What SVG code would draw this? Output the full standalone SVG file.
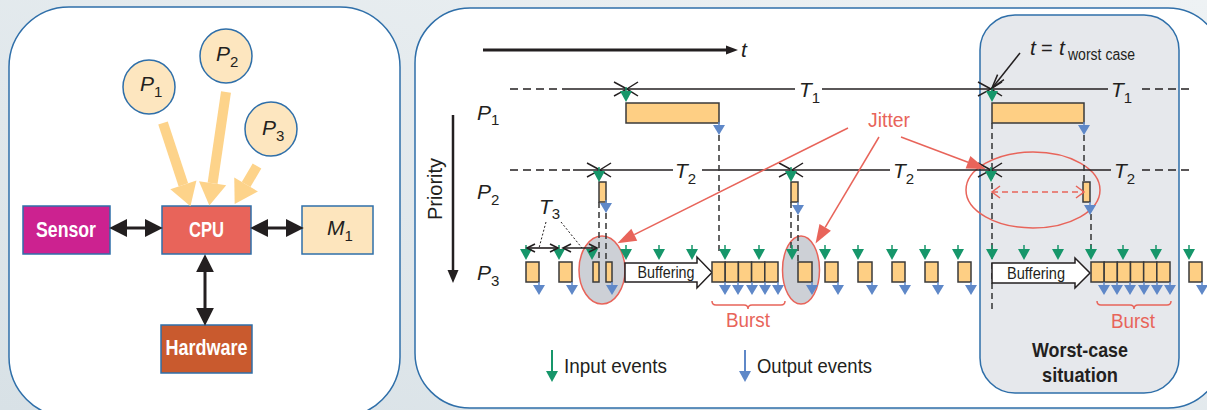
<svg xmlns="http://www.w3.org/2000/svg" xmlns:xlink="http://www.w3.org/1999/xlink" width="1207" height="410" viewBox="0 0 1207 410">
<defs>
<linearGradient id="bg" x1="0" y1="1" x2="1" y2="0">
<stop offset="0" stop-color="#d8e1e6"/>
<stop offset="1" stop-color="#eef2f4"/>
</linearGradient>
<marker id="ah" markerUnits="userSpaceOnUse" markerWidth="20" markerHeight="20" refX="0" refY="0" viewBox="0 -9 17 18" orient="auto-start-reverse" overflow="visible">
<path d="M0,-8 L16,0 L0,8 Z" fill="#231f20"/>
</marker>
<marker id="oh" markerUnits="userSpaceOnUse" markerWidth="30" markerHeight="30" refX="0" refY="0" viewBox="0 -12 19 24" orient="auto" overflow="visible">
<path d="M0,-11 L18,0 L0,11 Z" fill="#fdd38a"/>
</marker>
<marker id="ra" markerUnits="userSpaceOnUse" markerWidth="20" markerHeight="20" refX="0" refY="0" viewBox="0 -7 18 14" orient="auto" overflow="visible">
<path d="M0,-6 L17,0 L0,6 Z" fill="#e8645a"/>
</marker>
<g id="gi"><line x1="0" y1="-4" x2="0" y2="0" stroke="#16966a" stroke-width="1.5"/><path d="M-6,0 H6 L0,11 Z" fill="#16966a"/></g>
<g id="bo"><line x1="0" y1="-3" x2="0" y2="0" stroke="#5f88c8" stroke-width="1.5"/><path d="M-6,0 H6 L0,10 Z" fill="#5f88c8"/></g>
<path id="xm" d="M-12,-7 Q0,-1 12,7 M-12,7 Q0,1 12,-7" fill="none" stroke="#231f20" stroke-width="1.5"/>
<path id="t3h" d="M8,-4 L0,0 L8,4" fill="none" stroke="#231f20" stroke-width="1.6"/>
</defs>
<style>
.panel{fill:#fff;stroke:#2f6fa9;stroke-width:1.5}
.box{stroke:#2f6fa9;stroke-width:1.5}
.lbl{font-family:"Liberation Sans",Arial,sans-serif;font-weight:bold;font-size:22px;fill:#fff;text-anchor:middle}
.it{font-family:"Liberation Sans",Arial,sans-serif;font-style:italic;font-size:21px;fill:#231f20}
.s{font-style:normal;font-size:15px}
.txt{font-family:"Liberation Sans",Arial,sans-serif;font-size:20px;fill:#231f20}
.red{font-family:"Liberation Sans",Arial,sans-serif;font-size:20px;fill:#e8645a}
.bar{fill:#fecf84;stroke:#3a3a3a;stroke-width:1.5}
.dash{stroke:#333;stroke-width:1.5;stroke-dasharray:6,4;fill:none}
.tl{stroke:#231f20;stroke-width:1.5;fill:none}
.tld{stroke:#231f20;stroke-width:1.5;stroke-dasharray:8,5;fill:none}
.rl{stroke:#e8645a;stroke-width:1.5;fill:none}
.buf{fill:#fff;stroke:#231f20;stroke-width:1.5}
.buft{font-family:"Liberation Sans",Arial,sans-serif;font-size:16px;fill:#231f20;text-anchor:middle}
</style>
<rect x="0" y="0" width="1207" height="410" fill="url(#bg)"/>

<!-- Left panel -->
<rect class="panel" x="9" y="7" width="391" height="410" rx="60"/>

<g id="P1">
<ellipse cx="149" cy="87" rx="26" ry="27" fill="#fde6bf" stroke="#2f6fa9" stroke-width="1.5"/>
<text class="it" x="140" y="91">P<tspan class="s" dy="6">1</tspan></text>
</g>
<g id="P2">
<ellipse cx="226" cy="56" rx="26" ry="27" fill="#fde6bf" stroke="#2f6fa9" stroke-width="1.5"/>
<text class="it" x="216" y="61">P<tspan class="s" dy="6">2</tspan></text>
</g>
<g id="P3">
<ellipse cx="271" cy="129" rx="26" ry="27" fill="#fde6bf" stroke="#2f6fa9" stroke-width="1.5"/>
<text class="it" x="262" y="135">P<tspan class="s" dy="6">3</tspan></text>
</g>
<g id="sensor">
<rect class="box" x="23" y="206" width="87" height="48" fill="#cc2290"/>
<text class="lbl" x="66" y="237" textLength="60" lengthAdjust="spacingAndGlyphs">Sensor</text>
</g>
<g id="cpu">
<rect class="box" x="162" y="206" width="89" height="48" fill="#e8645a"/>
<text class="lbl" x="206.5" y="237" textLength="35" lengthAdjust="spacingAndGlyphs">CPU</text>
</g>
<g id="m1">
<rect class="box" x="302" y="206" width="71" height="48" fill="#fde5bd"/>
<text class="it" x="327" y="235" font-size="22">M<tspan class="s" dy="6">1</tspan></text>
</g>
<g id="hardware">
<rect class="box" x="161" y="325" width="91" height="48" fill="#c95a2e"/>
<text class="lbl" x="206.5" y="355" textLength="82" lengthAdjust="spacingAndGlyphs">Hardware</text>
</g>
<g id="connectors">
<line x1="163" y1="123" x2="183.4" y2="184.9" stroke="#fdd38a" stroke-width="10" marker-end="url(#oh)"/>
<line x1="226" y1="92" x2="212.6" y2="183.2" stroke="#fdd38a" stroke-width="10" marker-end="url(#oh)"/>
<line x1="257" y1="166" x2="246.1" y2="184.5" stroke="#fdd38a" stroke-width="10" marker-end="url(#oh)"/>
<line x1="127" y1="228" x2="145" y2="228" stroke="#231f20" stroke-width="3" marker-start="url(#ah)" marker-end="url(#ah)"/>
<line x1="268" y1="228" x2="286" y2="228" stroke="#231f20" stroke-width="3" marker-start="url(#ah)" marker-end="url(#ah)"/>
<line x1="205" y1="272" x2="205" y2="308" stroke="#231f20" stroke-width="3" marker-start="url(#ah)" marker-end="url(#ah)"/>
</g>

<!-- Right panel -->
<rect class="panel" x="415" y="8" width="808" height="400" rx="55"/>
<rect id="worstcase" x="980" y="15" width="199" height="378" rx="35" fill="#e6e8ec" stroke="#2f6fa9" stroke-width="1.5"/>

<g id="axes">
<line x1="483" y1="50" x2="727" y2="50" stroke="#231f20" stroke-width="3"/>
<path d="M726,45.5 L738,50 L726,54.5 Z" fill="#231f20"/>
<text class="it" x="741" y="57" font-size="22">t</text>
<line x1="453" y1="115" x2="453" y2="271" stroke="#231f20" stroke-width="2.5"/>
<path d="M447.5,270 L458.5,270 L453,283 Z" fill="#231f20"/>
<text class="txt" transform="translate(442,189) rotate(-90)" text-anchor="middle" font-size="21">Priority</text>
<text class="it" x="477" y="120">P<tspan class="s" dy="5">1</tspan></text>
<text class="it" x="477" y="199">P<tspan class="s" dy="6">2</tspan></text>
<text class="it" x="477" y="280">P<tspan class="s" dy="6">3</tspan></text>
</g>

<!-- ellipses -->
<ellipse cx="602" cy="270" rx="23" ry="34" fill="#cdd0d6" stroke="#e8645a" stroke-width="1.5"/>
<ellipse cx="801" cy="270" rx="18.5" ry="34" fill="#cdd0d6" stroke="#e8645a" stroke-width="1.5"/>
<ellipse cx="1033" cy="190" rx="67" ry="38" fill="none" stroke="#e8645a" stroke-width="1.5"/>

<!-- timelines -->
<g id="timelines">
<line class="tld" x1="510" y1="89" x2="563" y2="89"/>
<line class="tl" x1="563" y1="89" x2="795" y2="89"/>
<line class="tl" x1="822" y1="89" x2="1108" y2="89"/>
<line class="tld" x1="1142" y1="89" x2="1192" y2="89"/>
<text class="it" x="799" y="97">T<tspan class="s" dy="6">1</tspan></text>
<text class="it" x="1111" y="97">T<tspan class="s" dy="6">1</tspan></text>
<line class="tld" x1="510" y1="170" x2="573" y2="170"/>
<line class="tl" x1="573" y1="170" x2="673" y2="170"/>
<line class="tl" x1="702" y1="170" x2="890" y2="170"/>
<line class="tl" x1="917" y1="170" x2="1111" y2="170"/>
<line class="tld" x1="1142" y1="170" x2="1192" y2="170"/>
<text class="it" x="675" y="178">T<tspan class="s" dy="6">2</tspan></text>
<text class="it" x="893" y="178">T<tspan class="s" dy="6">2</tspan></text>
<text class="it" x="1114" y="178">T<tspan class="s" dy="6">2</tspan></text>
<use href="#xm" x="626" y="89"/>
<use href="#xm" x="990" y="89"/>
<use href="#xm" x="599" y="170"/>
<use href="#xm" x="791" y="170"/>
<use href="#xm" x="990" y="170"/>
</g>

<!-- dashed dependency lines -->
<g id="deps">
<path class="dash" d="M719,135 V251 H723"/>
<line class="dash" x1="992" y1="123" x2="992" y2="313"/>
<line class="dash" x1="1084" y1="135" x2="1084" y2="182"/>
<line class="dash" x1="1091" y1="214" x2="1091" y2="249"/>
<line class="dash" x1="599" y1="202" x2="599" y2="262"/>
<line class="dash" x1="606" y1="213" x2="606" y2="262"/>
<line class="dash" x1="791" y1="202" x2="791" y2="250"/>
<line class="dash" x1="798" y1="215" x2="798" y2="262"/>
</g>

<!-- P1 / P2 jobs -->
<g id="p1jobs">
<rect class="bar" x="626" y="103" width="93" height="20"/>
<rect class="bar" x="992" y="103" width="92" height="20"/>
<use href="#gi" x="626" y="91"/>
<use href="#gi" x="992" y="91"/>
<use href="#bo" x="719" y="125"/>
<use href="#bo" x="1084" y="125"/>
</g>
<g id="p2jobs">
<rect class="bar" x="599" y="182" width="7" height="20"/>
<rect class="bar" x="791" y="182" width="7" height="20"/>
<rect class="bar" x="1083" y="182" width="7" height="20"/>
<use href="#gi" x="599" y="171"/>
<use href="#gi" x="791" y="171"/>
<use href="#gi" x="991" y="171"/>
<use href="#bo" x="606" y="203"/>
<use href="#bo" x="798" y="205"/>
<use href="#bo" x="1090" y="205"/>
</g>

<!-- P3 jobs -->
<g id="p3jobs">
<path class="buf" d="M625,263 H697 V257 L712,272.5 L697,288 V282 H625 Z"/>
<text class="buft" x="666" y="278" textLength="57" lengthAdjust="spacingAndGlyphs">Buffering</text>
<path class="buf" d="M992,263 H1075 V258 L1090,273 L1075,288 V283 H992 Z"/>
<text class="buft" x="1036" y="279" textLength="58" lengthAdjust="spacingAndGlyphs">Buffering</text>
<rect class="bar" x="526" y="262" width="13" height="20"/>
<rect class="bar" x="559" y="262" width="13" height="20"/>
<rect class="bar" x="593" y="262" width="6" height="20"/>
<rect class="bar" x="606" y="262" width="6" height="20"/>
<rect class="bar" x="712" y="262" width="13.2" height="20"/>
<rect class="bar" x="725.2" y="262" width="13.2" height="20"/>
<rect class="bar" x="738.4" y="262" width="13.2" height="20"/>
<rect class="bar" x="751.6" y="262" width="13.2" height="20"/>
<rect class="bar" x="764.8" y="262" width="13.2" height="20"/>
<rect class="bar" x="798" y="262" width="14" height="20"/>
<rect class="bar" x="825" y="262" width="13" height="20"/>
<rect class="bar" x="858" y="262" width="14" height="20"/>
<rect class="bar" x="892" y="262" width="13" height="20"/>
<rect class="bar" x="925" y="262" width="13" height="20"/>
<rect class="bar" x="958" y="262" width="13" height="20"/>
<rect class="bar" x="1091" y="262" width="13.17" height="20"/>
<rect class="bar" x="1104.17" y="262" width="13.17" height="20"/>
<rect class="bar" x="1117.33" y="262" width="13.17" height="20"/>
<rect class="bar" x="1130.5" y="262" width="13.17" height="20"/>
<rect class="bar" x="1143.67" y="262" width="13.17" height="20"/>
<rect class="bar" x="1156.83" y="262" width="13.17" height="20"/>
<rect class="bar" x="1189" y="262" width="13" height="20"/>
<use href="#gi" x="526" y="249"/><use href="#gi" x="559" y="249"/><use href="#gi" x="592" y="249"/>
<use href="#gi" x="626" y="249"/><use href="#gi" x="659" y="249"/><use href="#gi" x="692" y="249"/>
<use href="#gi" x="725" y="249"/><use href="#gi" x="759" y="249"/><use href="#gi" x="792" y="249"/>
<use href="#gi" x="825" y="249"/><use href="#gi" x="858" y="249"/><use href="#gi" x="892" y="249"/>
<use href="#gi" x="925" y="249"/><use href="#gi" x="958" y="249"/><use href="#gi" x="992" y="249"/>
<use href="#gi" x="1024" y="249"/><use href="#gi" x="1058" y="249"/><use href="#gi" x="1091" y="249"/>
<use href="#gi" x="1123" y="249"/><use href="#gi" x="1156" y="249"/><use href="#gi" x="1189" y="249"/>
<use href="#bo" x="539" y="285"/><use href="#bo" x="572" y="285"/><use href="#bo" x="612" y="285"/>
<use href="#bo" x="725" y="285"/><use href="#bo" x="738" y="285"/><use href="#bo" x="752" y="285"/>
<use href="#bo" x="765" y="285"/><use href="#bo" x="778" y="285"/><use href="#bo" x="812" y="285"/>
<use href="#bo" x="838" y="285"/><use href="#bo" x="872" y="285"/><use href="#bo" x="905" y="285"/>
<use href="#bo" x="938" y="285"/><use href="#bo" x="971" y="285"/><use href="#bo" x="1104" y="285"/>
<use href="#bo" x="1117" y="285"/><use href="#bo" x="1130" y="285"/><use href="#bo" x="1144" y="285"/>
<use href="#bo" x="1157" y="285"/><use href="#bo" x="1170" y="285"/><use href="#bo" x="1202" y="285"/>
</g>

<!-- T3 annotation -->
<g id="t3">
<line x1="527" y1="248" x2="558" y2="248" stroke="#231f20" stroke-width="1.6"/>
<use href="#t3h" x="527" y="248"/>
<use href="#t3h" transform="translate(558,248) scale(-1,1)"/>
<line x1="563" y1="248" x2="597" y2="248" stroke="#231f20" stroke-width="1.6"/>
<use href="#t3h" x="563" y="248"/>
<use href="#t3h" transform="translate(597,248) scale(-1,1)"/>
<line x1="546" y1="222" x2="539" y2="248" stroke="#231f20" stroke-width="1" stroke-dasharray="2,2"/>
<line x1="561" y1="222" x2="582" y2="248" stroke="#231f20" stroke-width="1" stroke-dasharray="2,2"/>
<text class="it" x="539" y="214">T<tspan class="s" dy="5">3</tspan></text>
</g>

<!-- Jitter -->
<g id="jitter">
<text class="red" x="868" y="127" textLength="42" lengthAdjust="spacingAndGlyphs">Jitter</text>
<line class="rl" x1="848" y1="128" x2="634.3" y2="234.7" marker-end="url(#ra)"/>
<line class="rl" x1="879" y1="137" x2="825.2" y2="227.3" marker-end="url(#ra)"/>
<line class="rl" x1="901" y1="137" x2="968" y2="162.3" marker-end="url(#ra)"/>
<line class="rl" x1="992" y1="192" x2="1084" y2="192" stroke-dasharray="6,4"/>
<path class="rl" d="M1000,186 L992,192 L1000,198 M1076,186 L1084,192 L1076,198"/>
</g>

<!-- worst case label -->
<g id="tworst">
<line x1="1020" y1="53" x2="993" y2="87" stroke="#231f20" stroke-width="1.5"/>
<path d="M1003.9,79.6 L992,88 L997.6,74.6" fill="none" stroke="#231f20" stroke-width="1.5"/>
<text class="it" x="1030" y="55" font-size="22">t<tspan x="1041" font-style="normal" font-size="20">=</tspan><tspan x="1059">t</tspan><tspan x="1068" y="60" font-style="normal" font-size="16" textLength="67" lengthAdjust="spacingAndGlyphs">worst case</tspan></text>
</g>

<!-- bursts -->
<g id="bursts">
<path class="rl" d="M712,301 Q712,305 716,305 L744,305 Q748,305 748,309 Q748,305 752,305 L781,305 Q785,305 785,301"/>
<text class="red" x="748" y="327" text-anchor="middle" textLength="44" lengthAdjust="spacingAndGlyphs">Burst</text>
<path class="rl" d="M1097,301 Q1097,305 1101,305 L1130,305 Q1134,305 1134,309 Q1134,305 1138,305 L1167,305 Q1171,305 1171,301"/>
<text class="red" x="1133" y="328" text-anchor="middle" textLength="44" lengthAdjust="spacingAndGlyphs">Burst</text>
</g>

<text x="1080" y="357" text-anchor="middle" font-family="Liberation Sans, Arial, sans-serif" font-weight="bold" font-size="21" fill="#231f20" textLength="96" lengthAdjust="spacingAndGlyphs">Worst-case</text>
<text x="1080" y="382" text-anchor="middle" font-family="Liberation Sans, Arial, sans-serif" font-weight="bold" font-size="21" fill="#231f20" textLength="76" lengthAdjust="spacingAndGlyphs">situation</text>

<!-- legend -->
<g id="legend">
<line x1="552" y1="350" x2="552" y2="372" stroke="#16966a" stroke-width="2"/>
<path d="M546,371 H558 L552,382 Z" fill="#16966a"/>
<text class="txt" x="564" y="373" font-size="21" textLength="103" lengthAdjust="spacingAndGlyphs">Input events</text>
<line x1="745" y1="350" x2="745" y2="372" stroke="#5f88c8" stroke-width="2"/>
<path d="M739,371 H751 L745,382 Z" fill="#5f88c8"/>
<text class="txt" x="757" y="373" font-size="21" textLength="115" lengthAdjust="spacingAndGlyphs">Output events</text>
</g>
</svg>
